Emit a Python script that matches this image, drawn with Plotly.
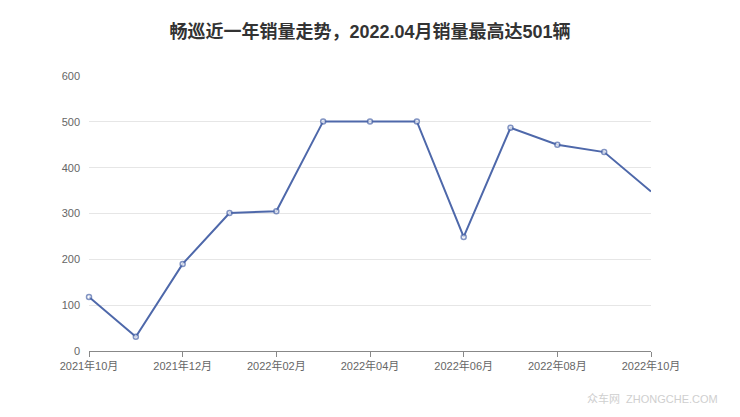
import plotly.graph_objects as go

months = ['2021年10月', '2021年11月', '2021年12月', '2022年01月', '2022年02月',
          '2022年03月', '2022年04月', '2022年05月', '2022年06月', '2022年07月',
          '2022年08月', '2022年09月', '2022年10月']
sales = [118, 31, 190, 301, 305, 501, 501, 501, 249, 487, 450, 434, 348]
tick_labels = months[::2]
y_ticks = [0, 100, 200, 300, 400, 500, 600]

tick_font = 'Liberation Sans, Noto Sans CJK SC, sans-serif'
line_color = '#4e68aa'

# the page body has an 8px margin, so the figure is a bit smaller than the window
marker_sizes = [5] * (len(sales) - 1) + [0]

fig = go.Figure()
fig.add_trace(go.Scatter(
    x=months,
    y=sales,
    mode='lines+markers',
    line=dict(color=line_color, width=2),
    marker=dict(size=marker_sizes, color='white',
                line=dict(color=line_color, width=1.5)),
    cliponaxis=False,
    showlegend=False))

fig.update_layout(
    width=732,
    height=409,
    margin=dict(l=81, r=89, t=68, b=66),
    plot_bgcolor='white',
    paper_bgcolor='white',
    font=dict(family=tick_font, color='#666666', size=11),
    title=dict(
        text='畅巡近一年销量走势，2022.04月销量最高达501辆',
        x=(370 - 8) / 732,
        xanchor='center',
        y=1 - 24 / 409,
        yanchor='middle',
        font=dict(family=tick_font, size=18, color='#333333', weight='bold')),
    xaxis=dict(
        type='category',
        range=[0, len(months) - 1],
        tickvals=tick_labels,
        ticktext=tick_labels,
        showline=True,
        linecolor='#888888',
        linewidth=1,
        ticks='outside',
        ticklen=5,
        tickcolor='#888888',
        showgrid=False,
        tickfont=dict(size=11, color='#666666')),
    yaxis=dict(
        range=[0, 600],
        tickvals=y_ticks,
        showline=False,
        showgrid=True,
        gridcolor='#e6e6e6',
        zeroline=False,
        ticks='',
        ticklabelstandoff=8,
        tickfont=dict(size=11, color='#666666')),
)

fig.add_annotation(
    text='众车网  ZHONGCHE.COM',
    xref='paper', yref='paper',
    x=(720 - 8 - 81) / 562, y=-(398 - 351) / 275,
    xanchor='right', yanchor='middle',
    showarrow=False,
    font=dict(family=tick_font, size=11, color='#cfcfcf'))

fig.write_html('out.html')
